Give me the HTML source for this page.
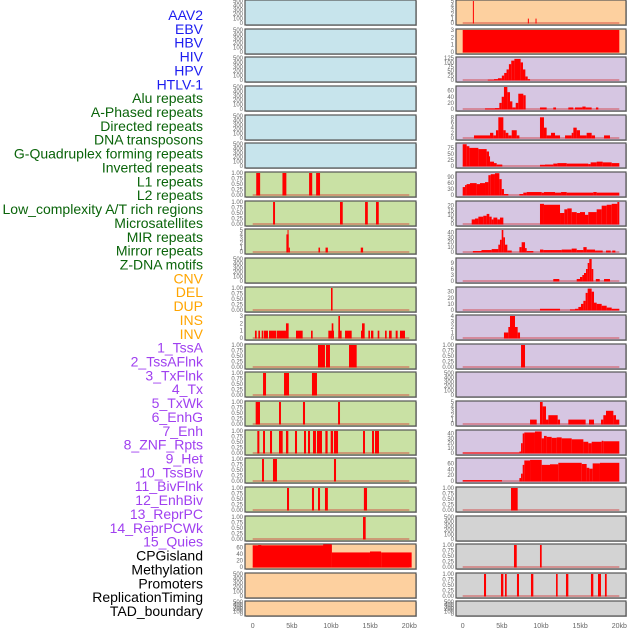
<!DOCTYPE html>
<html><head><meta charset="utf-8"><style>
html,body{margin:0;padding:0;background:#fff;width:630px;height:630px;overflow:hidden}
svg{display:block}
</style></head><body>
<svg id="c" width="630" height="630" xmlns="http://www.w3.org/2000/svg"></svg>
<script>
const NS="http://www.w3.org/2000/svg";
const labels=["AAV2","EBV","HBV","HIV","HPV","HTLV-1","Alu repeats","A-Phased repeats","Directed repeats","DNA transposons","G-Quadruplex forming repeats","Inverted repeats","L1 repeats","L2 repeats","Low_complexity A/T rich regions","Microsatellites","MIR repeats","Mirror repeats","Z-DNA motifs","CNV","DEL","DUP","INS","INV","1_TssA","2_TssAFlnk","3_TxFlnk","4_Tx","5_TxWk","6_EnhG","7_Enh","8_ZNF_Rpts","9_Het","10_TssBiv","11_BivFlnk","12_EnhBiv","13_ReprPC","14_ReprPCWk","15_Quies","CPGisland","Methylation","Promoters","ReplicationTiming","TAD_boundary"];
const labelGroups=[6,13,5,15,5];
const groupColors=["#1c1cf0","#0a640a","#ffa500","#a040f0","#000000"];
const xTicks=[0,5,10,15,20];
const xTickLabels=["0","5kb","10kb","15kb","20kb"];
const leftBg=["b","b","b","b","b","b","g","g","g","g","g","g","g","g","g","g","g","g","g","o","o","o"];
const rightBg=["o","o","p","p","p","p","p","p","p","p","p","p","p","p","p","p","p","r","r","r","r","r"];
const E=null;
const T1=[0,0.25,0.5,0.75,1];
const T500=[0,100,200,300,400,500];
const L6=[[0.45,0.95,1],[3.8,4.3,1],[7.2,7.6,1],[8.1,8.6,1]];
const L7=[[2.6,2.85,1],[11.15,11.5,1],[14.35,14.7,1],[15.75,16.1,1]];
const L8=[[4.3,4.6,4],[4.45,4.55,5],[4.6,4.75,1],[8.4,8.6,1],[9.3,9.6,1],[13.8,14.1,1]];
const L10=[[10.0,10.2,1]];
const L11=[[0.29,0.51,1],[0.72,0.93,1],[1.15,1.36,1],[1.44,1.95,1],[2.08,2.98,1],[3.06,4.25,1],[4.25,4.59,2],[5.53,6.38,1],[7.45,7.66,1],[9.66,10.38,1],[10.09,10.3,2],[10.94,11.15,3],[10.94,11.36,1],[11.79,12.64,1],[13.83,14.2,1],[13.96,14.3,2],[14.77,14.98,1],[15.11,15.41,1],[15.96,16.17,1],[16.9,17.11,1],[17.41,17.75,1],[18.26,18.51,1],[18.81,19.45,1]];
const L12=[[8.34,9.23,1],[9.36,9.87,1],[12.3,13.28,1]];
const L13=[[1.32,1.7,1],[4.0,4.64,1],[7.57,8.21,1]];
const L14=[[0.38,0.93,1],[3.36,3.61,1],[6.42,6.68,1],[10.9,11.15,1]];
const L15=[[0.59,0.85,1],[1.32,1.57,1],[2.21,2.47,1],[3.36,3.83,1],[4.25,4.55,1],[5.4,5.66,1],[6.55,6.81,1],[7.06,7.32,1],[7.7,8.08,1],[8.21,8.85,1],[9.28,9.57,1],[9.96,10.26,1],[10.38,10.9,1],[14.09,14.34,1],[15.24,15.49,1],[15.62,16.13,1]];
const L16=[[1.19,1.44,1],[2.59,3.1,1],[10.38,10.64,1]];
const L17=[[4.38,4.64,1],[7.57,7.83,1],[8.34,8.6,1],[9.23,9.6,1],[14.2,14.6,1]];
const L18=[[14.09,14.43,1]];
const L19=[[0,10.1,67],[0.7,1.1,68],[9.0,10.1,70],[10.1,14.98,45],[14.98,16.4,48],[16.4,20.3,45]];
const R0=[[1.3,1.42,5],[8.32,8.45,1],[9.3,9.42,1]];
const R1=[[0,20,3]];
const R2=[[3.2,4.0,2],[4.0,4.5,5],[4.5,5.0,10],[5.0,5.3,25],[5.3,5.6,40],[5.6,5.9,60],[5.9,6.2,90],[6.2,6.6,110],[6.6,7.4,120],[7.4,7.7,100],[7.7,8.0,60],[8.0,8.3,20],[8.3,8.6,5]];
const R3=[[2.85,4.12,2],[4.12,4.68,3],[4.68,4.98,20],[4.98,5.27,40],[5.27,5.7,72],[5.7,6.04,55],[6.04,6.34,25],[6.34,6.77,5],[6.77,7.1,20],[7.1,7.74,50],[7.74,8.04,45],[9.87,10.72,5],[11.57,11.92,5],[13.49,14.13,5],[14.34,15.28,5],[15.28,15.7,8],[15.7,16.47,5],[17.02,17.32,5]];
const R4=[[1.44,3.49,1],[3.49,3.91,2],[3.91,4.25,1],[4.25,4.55,3],[4.55,5.19,8],[5.19,5.49,3],[5.49,5.83,2],[5.83,6.26,1],[6.26,6.9,3],[6.9,7.24,1],[9.87,10.38,8],[10.38,10.72,4],[10.72,11.28,1],[11.28,11.79,2],[11.79,12.43,1],[13.07,13.92,1],[13.92,14.13,2],[14.13,14.56,4],[14.56,14.98,3],[14.98,15.83,1],[15.83,16.47,2],[16.47,16.9,1],[18.05,18.81,1]];
const R5=[[0,0.51,90],[0.51,0.85,82],[0.85,2.0,75],[2.0,3.06,70],[3.06,3.36,60],[3.36,3.49,40],[3.49,4.0,18],[4.0,4.34,12],[4.34,5.06,6],[9.87,10.51,5],[10.51,11.57,6],[11.57,12.09,10],[12.09,13.28,12],[13.28,16.04,10],[16.04,16.34,8],[16.34,17.11,15],[17.11,17.88,18],[17.88,19.03,15],[19.03,20.0,12]];
const R6=[[0,0.3,40],[0.3,0.5,50],[0.5,0.93,55],[0.93,1.78,60],[1.78,2.21,55],[2.21,2.85,60],[2.85,3.28,65],[3.28,3.58,100],[3.58,4.12,105],[4.12,4.68,110],[4.68,4.98,80],[4.98,5.27,30],[5.27,5.83,5],[7.24,7.74,5],[7.74,8.17,12],[8.17,10.09,15],[10.09,10.38,12],[10.38,11.79,15],[11.79,12.56,12],[12.56,13.28,15],[13.28,16.68,12],[16.68,17.11,15],[17.11,20.0,12]];
const R7=[[1.15,1.57,5],[1.57,2.0,6],[2.0,2.63,8],[2.63,3.06,9],[3.06,3.4,11],[3.4,3.7,8],[3.7,3.92,5],[3.92,4.42,7],[4.42,4.76,5],[4.76,5.19,7],[9.87,10.38,22],[10.38,12.43,21],[12.43,12.98,12],[12.98,13.36,16],[13.36,13.92,17],[13.92,14.56,13],[14.56,14.98,12],[14.98,15.62,13],[15.62,16.04,10],[16.04,17.11,13],[17.11,17.75,16],[17.75,18.39,20],[18.39,19.03,21],[19.03,19.75,22],[19.75,20.0,24]];
const R8=[[1.3,2.4,2],[2.4,3.7,4],[3.7,4.55,6],[4.55,4.76,15],[4.76,4.98,25],[4.98,5.19,45],[5.19,5.4,30],[5.4,5.7,15],[5.7,6.26,3],[7.24,7.53,10],[7.53,7.96,20],[7.96,8.17,8],[8.17,9.02,2],[9.87,10.3,5],[10.3,12.64,4],[12.64,13.92,5],[13.92,14.56,7],[14.56,15.41,4],[15.41,15.83,10],[15.83,16.9,5],[16.9,17.88,3],[18.3,18.9,3],[19.1,19.5,3]];
const R9=[[11.57,12.34,1],[14.56,14.98,1],[14.98,15.28,2],[15.28,15.49,3],[15.49,15.75,4],[15.75,15.96,6],[15.96,16.17,9],[16.17,16.47,11],[16.47,16.68,6],[17.0,17.5,1],[18.05,18.81,1]];
const R10=[[9.87,12.43,2],[13.7,14.34,1],[14.34,14.77,2],[14.77,15.11,5],[15.11,15.41,10],[15.41,15.7,15],[15.7,15.96,28],[15.96,16.47,35],[16.47,16.77,30],[16.77,17.11,12],[17.11,17.75,10],[17.75,18.39,7],[18.39,19.03,4],[19.03,20.0,2]];
const R11=[[5.27,5.83,1],[5.83,6.04,2],[6.04,6.68,4],[6.68,7.02,2],[7.02,7.32,1]];
const R12=[[7.45,7.96,1]];
const R14=[[8.6,9.45,1],[9.87,10.21,5],[10.21,10.64,4],[10.64,10.94,1],[10.94,12.13,2],[12.13,12.43,1],[13.49,15.7,1],[16.13,16.77,1],[17.66,17.96,1],[17.96,18.3,2],[18.3,19.24,3],[19.24,19.58,2],[19.58,20.0,1]];
const R15=[[0,7.24,1],[7.24,7.45,3],[7.45,7.66,20],[7.66,7.87,40],[7.87,9.23,42],[9.23,10.09,44],[10.09,10.38,30],[10.38,10.72,35],[10.72,11.36,33],[11.36,12.0,31],[12.0,12.64,32],[12.64,13.92,30],[13.92,15.41,28],[15.41,16.04,23],[16.04,16.47,20],[16.47,17.75,23],[17.75,17.96,25],[17.96,20.0,24]];
const R16=[[0,5.02,3],[7.24,7.45,10],[7.45,7.66,25],[7.66,7.87,55],[7.87,8.6,70],[8.6,10.09,72],[10.09,11.15,55],[11.15,12.21,57],[12.21,15.2,62],[15.2,15.83,58],[15.83,16.17,45],[16.17,16.6,42],[16.6,17.53,60],[17.53,20.0,62]];
const R17=[[6.17,7.02,1]];
const R19=[[6.55,6.9,1],[9.87,10.09,1]];
const R20=[[2.72,2.98,1],[4.89,5.19,1],[5.4,5.62,1],[6.93,7.19,1],[8.72,9.02,1],[11.92,12.13,1],[13.19,13.49,1],[16.38,16.68,1],[17.28,17.66,1],[18.17,18.39,1]];
const leftSegs=[E,E,E,E,E,E,L6,L7,L8,E,L10,L11,L12,L13,L14,L15,L16,L17,L18,L19,E,E];
const leftMax=[500,500,500,500,500,500,1,1,5,500,1,3,1,1,1,1,1,1,1,68,500,500];
const leftTicks=[T500,T500,T500,T500,T500,T500,T1,T1,[0,1,2,3,4,5],T500,T1,[0,1,2,3],T1,T1,T1,T1,T1,T1,T1,[0,20,40,60],T500,T500];
const rightSegs=[R0,R1,R2,R3,R4,R5,R6,R7,R8,R9,R10,R11,R12,E,R14,R15,R16,R17,E,R19,R20,E];
const rightMax=[5,3,125,72,8.5,91,111,24,45,11,36,4,1,500,5,45,75,1,500,1,1,500];
const rightTicks=[[0,1,2,3,4,5],[0,1,2,3],[0,25,50,75,100,125],[0,20,40,60],[0,2,4,6,8],[0,25,50,75],[0,30,60,90],[0,5,10,15,20],[0,10,20,30,40],[0,3,6,9],[0,10,20,30],[0,1,2,3,4],T1,T500,[0,1,2,3,4,5],[0,10,20,30,40],[0,20,40,60],T1,T500,T1,T1,T500];

const bgColor={b:"#c7e4ec",g:"#c9e1a4",o:"#fdd09f",p:"#d6c6e2",r:"#d3d3d3"};
const svg=document.getElementById('c');
function mk(tag,attrs,parent){const e=document.createElementNS(NS,tag);for(const k in attrs)e.setAttribute(k,attrs[k]);(parent||svg).appendChild(e);return e;}

let li=0;
labelGroups.forEach((n,g)=>{for(let j=0;j<n;j++){const t=mk('text',{x:203,y:(20+li*13.86).toFixed(1),'text-anchor':'end','font-family':'Liberation Sans, sans-serif','font-size':'14',fill:groupColors[g]});


t.textContent=labels[li];li++;}});

const rowTop=i=>i<21?Math.round(i*28.65):601;
const rowH=i=>i<21?25:15;
function fmt(v,ticks){return ticks===T1?v.toFixed(2):String(v);}
function panel(col,i,segs,ymax,ticks,bg){
  const px=col===0?245:456, pw=col===0?171:170, x0=col===0?252.7:462.7;
  const xs=kb=>x0+kb*7.83;
  const top=rowTop(i),h=rowH(i),bot=top+h;
  const ys=v=>(bot-2)-v/ymax*(h-3);
  const g=mk('g',{});
  
  
  mk('rect',{x:px+1,y:top+1,width:pw,height:h,fill:'#bbb'},g);
  mk('rect',{x:px,y:top,width:pw,height:h,fill:bgColor[bg],stroke:'#555','stroke-width':1.2},g);
  ticks.forEach(v=>{const t=mk('text',{x:px-2,y:(ys(v)+2).toFixed(1),'text-anchor':'end','font-family':'Liberation Sans, sans-serif','font-size':'6',fill:'#666'},g);
    
    
    t.textContent=fmt(v,ticks);});
  if(segs){
    mk('line',{x1:xs(0),x2:xs(20),y1:bot-2,y2:bot-2,stroke:'rgba(210,40,40,0.5)','stroke-width':1.5},g);
    segs.forEach(s=>{const y=ys(s[2]);const r=mk('rect',{x:xs(s[0]).toFixed(2),y:y.toFixed(2),width:Math.max(1,xs(s[1])-xs(s[0])).toFixed(2),height:(bot-2-y+0.5).toFixed(2),fill:'#ff0000'},g);
      
      });
  }
}
for(let i=0;i<22;i++){panel(0,i,leftSegs[i],leftMax[i],leftTicks[i],leftBg[i]);panel(1,i,rightSegs[i],rightMax[i],rightTicks[i],rightBg[i]);}
[252.7,462.7].forEach(x0=>{xTicks.forEach((v,k)=>{const t=mk('text',{x:x0+v*7.83,y:628,'text-anchor':'middle','font-family':'Liberation Sans, sans-serif','font-size':'7',fill:'#666'});
  
  
  t.textContent=xTickLabels[k];});});
</script>
</body></html>
